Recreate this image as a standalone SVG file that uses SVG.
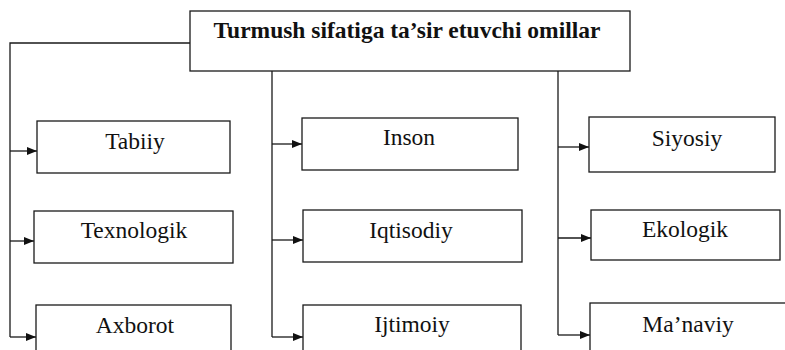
<svg xmlns="http://www.w3.org/2000/svg" width="785" height="350" viewBox="0 0 785 350">
<style>
.box{fill:#fff;stroke:#1a1a1a;stroke-width:1.3}
.lbl{font-family:"Liberation Serif","Times New Roman",serif;font-size:23.5px;fill:#111;text-anchor:middle}
.title{font-family:"Liberation Serif","Times New Roman",serif;font-size:23.5px;font-weight:bold;fill:#111;text-anchor:middle}
.con{fill:none;stroke:#1a1a1a;stroke-width:1.3}
</style>
<defs>
<marker id="arr" markerUnits="userSpaceOnUse" markerWidth="11" markerHeight="9" refX="10" refY="4.5" orient="auto">
<path d="M0,0.5 L10,4.5 L0,8.5 Z" fill="#111"/>
</marker>
</defs>
<rect width="785" height="350" fill="#fff"/>
<g id="connectors">
<path class="con" d="M190,43 H10 V337"/>
<path class="con" d="M272,71 V337"/>
<path class="con" d="M558,71 V335"/>
<line class="con" x1="10" y1="151" x2="37" y2="151" marker-end="url(#arr)"/>
<line class="con" x1="10" y1="241" x2="34" y2="241" marker-end="url(#arr)"/>
<line class="con" x1="10" y1="337" x2="36" y2="337" marker-end="url(#arr)"/>
<line class="con" x1="272" y1="144" x2="302" y2="144" marker-end="url(#arr)"/>
<line class="con" x1="272" y1="240" x2="303" y2="240" marker-end="url(#arr)"/>
<line class="con" x1="272" y1="337" x2="303" y2="337" marker-end="url(#arr)"/>
<line class="con" x1="558" y1="147" x2="589" y2="147" marker-end="url(#arr)"/>
<line class="con" x1="558" y1="238" x2="591" y2="238" marker-end="url(#arr)"/>
<line class="con" x1="558" y1="335" x2="590" y2="335" marker-end="url(#arr)"/>
</g>
<g id="root">
<rect class="box" x="190" y="11" width="440" height="60"/>
<text class="title" x="407" y="38">Turmush sifatiga ta’sir etuvchi omillar</text>
</g>
<g id="tabiiy">
<rect class="box" x="37" y="121" width="193" height="52"/>
<text class="lbl" x="135" y="149">Tabiiy</text>
</g>
<g id="texnologik">
<rect class="box" x="34" y="211" width="199" height="52"/>
<text class="lbl" x="134" y="238">Texnologik</text>
</g>
<g id="axborot">
<rect class="box" x="36" y="305" width="195" height="60"/>
<text class="lbl" x="135" y="333">Axborot</text>
</g>
<g id="inson">
<rect class="box" x="302" y="118" width="216" height="52"/>
<text class="lbl" x="409" y="145">Inson</text>
</g>
<g id="iqtisodiy">
<rect class="box" x="303" y="210" width="219" height="52"/>
<text class="lbl" x="411" y="238">Iqtisodiy</text>
</g>
<g id="ijtimoiy">
<rect class="box" x="303" y="305" width="218" height="60"/>
<text class="lbl" x="412" y="332">Ijtimoiy</text>
</g>
<g id="siyosiy">
<rect class="box" x="589" y="117" width="186" height="55"/>
<text class="lbl" x="687" y="146">Siyosiy</text>
</g>
<g id="ekologik">
<rect class="box" x="591" y="210" width="189" height="50"/>
<text class="lbl" x="685" y="237">Ekologik</text>
</g>
<g id="manaviy">
<rect class="box" x="590" y="303" width="220" height="60"/>
<text class="lbl" x="688" y="332">Ma’naviy</text>
</g>
</svg>
